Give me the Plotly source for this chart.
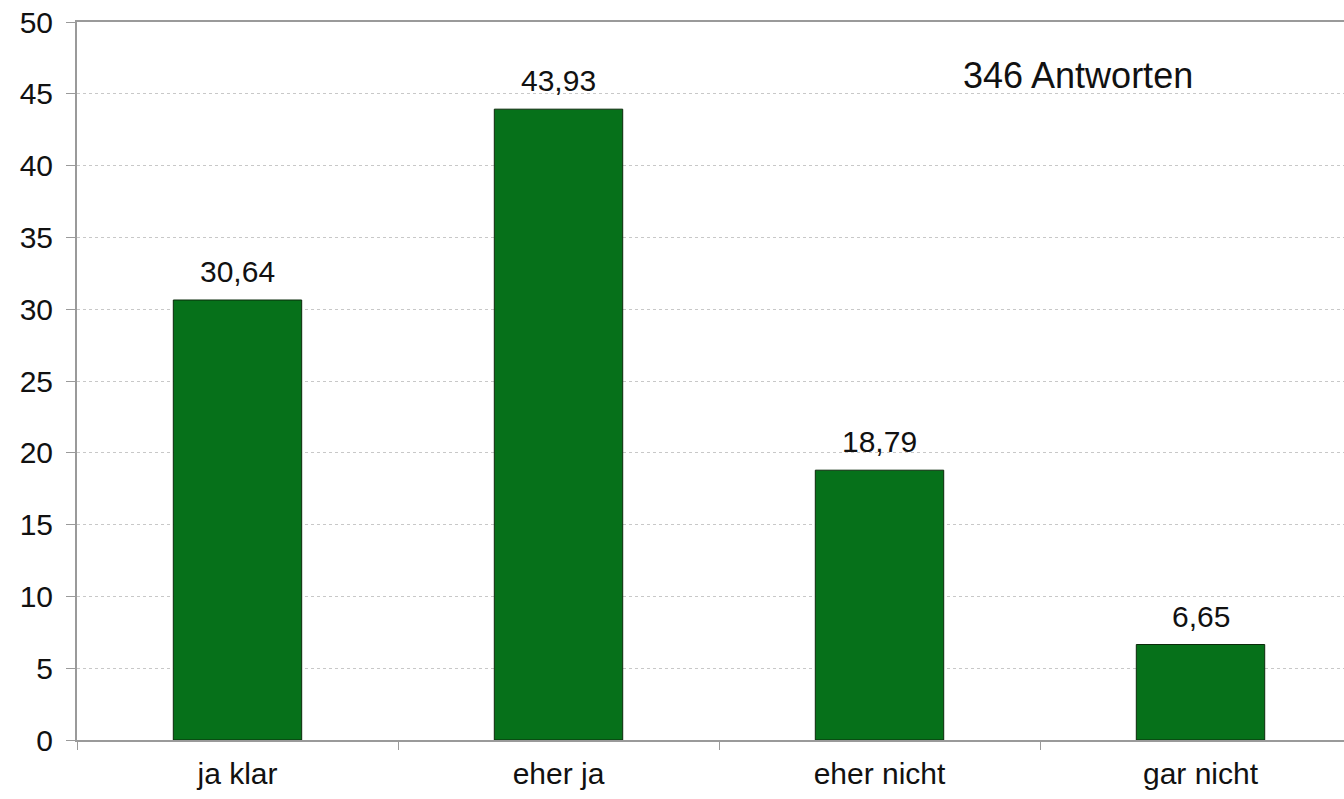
import plotly.graph_objects as go

categories = ["ja klar", "eher ja", "eher nicht", "gar nicht"]
values = [30.64, 43.93, 18.79, 6.65]
y_ticks = [0, 5, 10, 15, 20, 25, 30, 35, 40, 45, 50]
note = "346 Antworten"

font_family = "Liberation Sans, Arial, sans-serif"

fig = go.Figure(go.Bar(
    x=categories,
    y=values,
    width=0.40,
    marker=dict(color="#06711a", line=dict(color="#0b2a0b", width=1)),
))

for c, v in zip(categories, values):
    fig.add_annotation(
        x=c, y=v, text=f"{v:.2f}".replace(".", ","),
        showarrow=False, xanchor="center", yanchor="bottom", yshift=10,
        font=dict(family=font_family, size=30, color="#111111"),
    )

fig.add_annotation(
    text=note, x=0.79, y=46.3, xref="paper", yref="y",
    showarrow=False, xanchor="center", yanchor="middle",
    font=dict(family=font_family, size=36, color="#111111"),
)

fig.update_layout(
    width=1344, height=799,
    margin=dict(l=77, r=0, t=22, b=59, autoexpand=False),
    paper_bgcolor="white", plot_bgcolor="white",
    separators=",.",
    showlegend=False,
    font=dict(family=font_family, size=30, color="#111111"),
    bargap=0.6,
)

fig.update_xaxes(
    range=[-0.5, 3.447],
    automargin=False,
    showline=True, linecolor="#9a9a9a", linewidth=2, mirror=True,
    ticks="outside", tickson="boundaries", ticklen=8, tickcolor="#9a9a9a",
    showgrid=False,
    tickfont=dict(family=font_family, size=30, color="#111111"),
    ticklabelstandoff=6,
)

fig.update_yaxes(
    range=[0, 50], tickvals=y_ticks,
    automargin=False,
    showline=True, linecolor="#9a9a9a", linewidth=2,
    ticks="outside", ticklen=9, tickcolor="#9a9a9a",
    showgrid=True, gridcolor="#c8c8c8", griddash="dot", gridwidth=1,
    zeroline=False,
    tickfont=dict(family=font_family, size=30, color="#111111"),
    ticklabelstandoff=7,
    ticklabeloverflow="allow",
)

fig.write_html(
    "out.html",
    config={"displayModeBar": False},
    post_script="document.body.style.margin='0px';document.body.style.overflow='hidden';",
)
